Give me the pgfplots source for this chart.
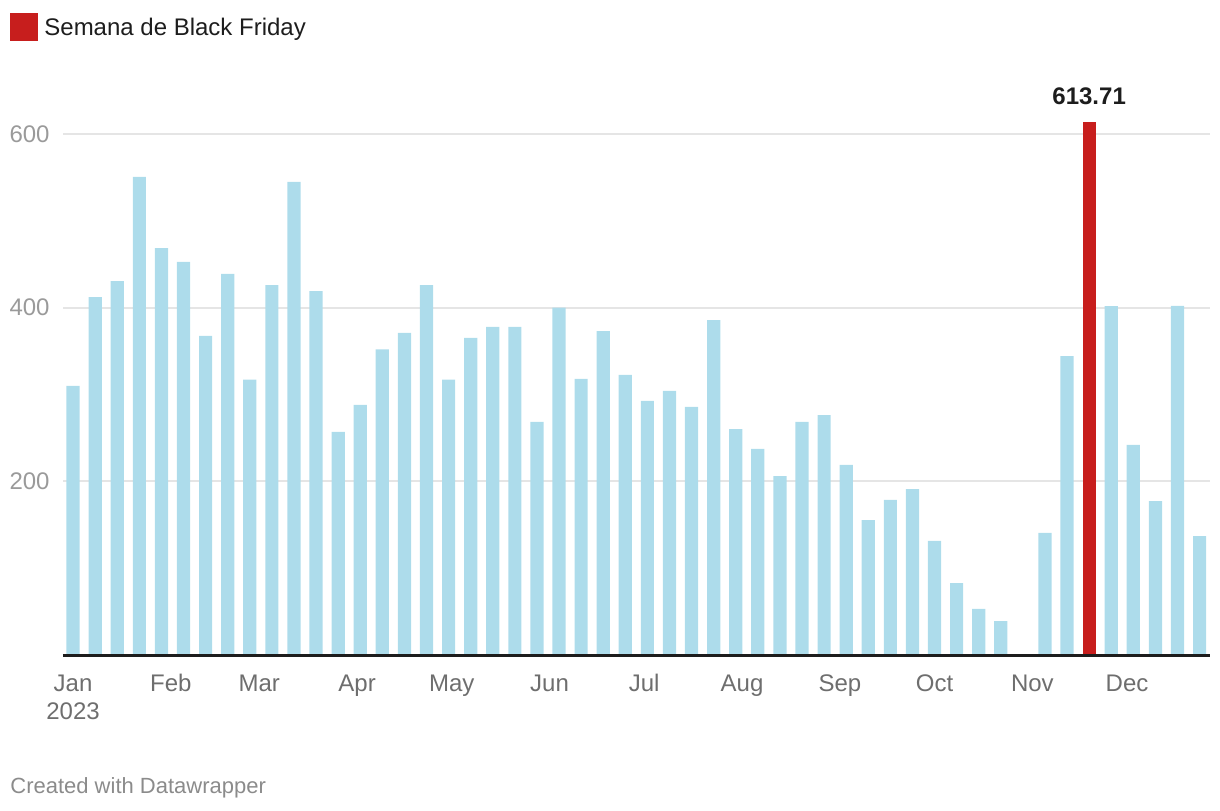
\documentclass[border=0pt]{standalone}
\usepackage{pgfplots}
\pgfplotsset{compat=1.18}
\usepackage{fontspec}
\setmainfont{Liberation Sans}
\definecolor{barblue}{HTML}{ADDCEB}
\definecolor{barred}{HTML}{C71E1D}
\definecolor{gridc}{HTML}{E5E5E5}
\definecolor{ytick}{HTML}{9A9A9A}
\definecolor{xtick}{HTML}{6E6E6E}
\definecolor{dark}{HTML}{1D1D1D}
\begin{document}
\begin{tikzpicture}
\begin{axis}[
  scale only axis,
  width=573.5pt, height=269.25pt,
  xmin=-3.2, xmax=360.3,
  ymin=0, ymax=620,
  axis line style={draw=none},
  xtick pos=bottom,
  ytick={200,400,600},
  yticklabels={},
  ymajorgrids,
  grid style={gridc, line width=1pt},
  xtick={0,31,59,90,120,151,181,212,243,273,304,334},
  xticklabels={{Jan\\2023},Feb,Mar,Apr,May,Jun,Jul,Aug,Sep,Oct,Nov,Dec},
  xticklabel style={font=\fontsize{12}{14}\selectfont, text=xtick, align=center, anchor=north, yshift=-5pt},
  typeset ticklabels with strut,
  major tick length=0pt,
  clip=false,
  ybar, bar width=6.6pt, bar shift=0pt,
]
\addplot[draw=none, fill=barblue] coordinates {
(0,310) (7,412) (14,430.6) (21,550.4) (28,468.6) (35,452.5) (42,367.3) (49,438.7)
(56,317) (63,426) (70,544.6) (77,419) (84,257) (91,288) (98,352) (105,371)
(112,426) (119,317) (126,365) (133,377.7) (140,377.7) (147,268.3) (154,400) (161,317.8)
(168,373) (175,322.4) (182,292.5) (189,304) (196,285.6) (203,385.7) (210,260.2) (217,237.2)
(224,206.1) (231,268.3) (238,276.3) (245,218.8) (252,155.4) (259,178.5) (266,191.1) (273,131.3)
(280,82.9) (287,53) (294,39) (308,140.5) (315,344) (329,401.8)
(336,241.8) (343,177.3) (350,402) (357,137)
};
\addplot[draw=none, fill=barred] coordinates {(322,613.71)};
\draw[dark, line width=1.5pt] (axis cs:-3.2,0) -- (axis cs:360.3,0);
\node[anchor=south, font=\fontsize{12}{14}\selectfont\bfseries, text=dark] at (axis cs:322,613.71) [yshift=5pt] {613.71};
\node[anchor=east, font=\fontsize{12}{14}\selectfont, text=ytick, inner sep=0pt] at (axis cs:-3.2,200) [xshift=-6.5pt] {200};
\node[anchor=east, font=\fontsize{12}{14}\selectfont, text=ytick, inner sep=0pt] at (axis cs:-3.2,400) [xshift=-6.5pt] {400};
\node[anchor=east, font=\fontsize{12}{14}\selectfont, text=ytick, inner sep=0pt] at (axis cs:-3.2,600) [xshift=-6.5pt] {600};
\end{axis}
% frame / bounding box: 1px = 0.5pt, axis south west at px (63,655)
\path ([shift={(-31.5pt,-77.5pt)}]current axis.south west) rectangle ([shift={(578.5pt,327.5pt)}]current axis.south west);
% legend
\fill[barred] ([shift={(-26.5pt,321pt)}]current axis.south west) rectangle ++(14pt,-14pt);
\node[anchor=base west, font=\fontsize{12}{14}\selectfont, text=dark, inner sep=0pt] at ([shift={(-9.5pt,309.5pt)}]current axis.south west) {Semana de Black Friday};
% credit
\node[anchor=base west, font=\fontsize{11}{13}\selectfont, text=xtick!80, inner sep=0pt] at ([shift={(-26.5pt,-69pt)}]current axis.south west) {Created with Datawrapper};
\end{tikzpicture}
\end{document}
